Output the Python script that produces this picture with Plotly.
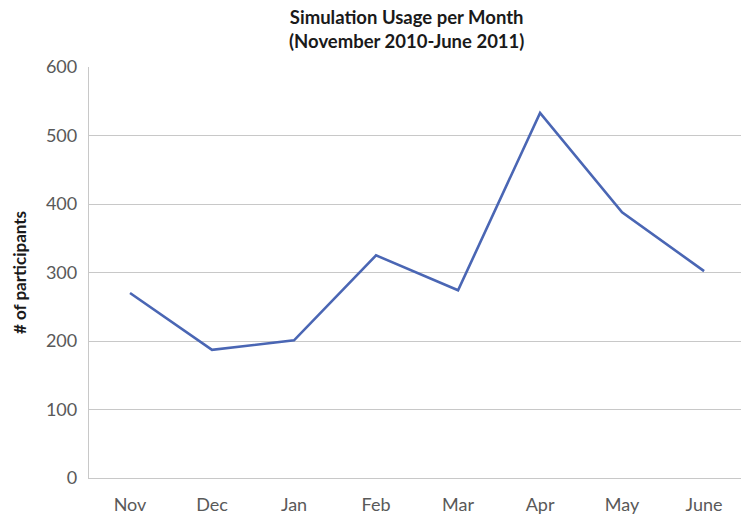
import plotly.graph_objects as go

months = ["Nov", "Dec", "Jan", "Feb", "Mar", "Apr", "May", "June"]
participants = [270, 187, 201, 325, 274, 533, 388, 302]
y_ticks = [0, 100, 200, 300, 400, 500, 600]

fig = go.Figure()
fig.add_trace(go.Scatter(
    x=list(range(len(months))), y=participants, mode="lines",
    line=dict(color="#4A66B4", width=2.6), hoverinfo="skip"))

fig.update_layout(
    width=741, height=514,
    margin=dict(l=89, r=0, t=67, b=36),
    paper_bgcolor="white", plot_bgcolor="white",
    showlegend=False,
    font=dict(family="Lato, 'Open Sans', sans-serif", color="#595959"),
    annotations=[dict(
        text="<b>Simulation Usage per Month<br>(November 2010-June 2011)</b>",
        x=(406 - 89) / 652, xref="paper", xanchor="center",
        y=(478 - 4) / 411, yref="paper", yanchor="top",
        showarrow=False, align="center",
        font=dict(size=18.5, color="#1a1a1a"),
    )],
)
fig.update_xaxes(
    range=[-0.5, 7.45], tickmode="array", tickvals=list(range(len(months))),
    ticktext=months, showgrid=False, zeroline=False,
    showline=True, linecolor="#c8c8c8", linewidth=1.3,
    tickfont=dict(size=18, color="#595959"), ticks="", ticklabelstandoff=10,
)
fig.update_yaxes(
    range=[0, 600], tickmode="array", tickvals=y_ticks,
    showgrid=True, gridcolor="#c8c8c8", gridwidth=1.3, zeroline=False,
    showline=True, linecolor="#c8c8c8", linewidth=1.3,
    tickfont=dict(size=18, color="#595959"), ticks="", ticklabelstandoff=7,
    title=dict(text="<b># of participants</b>", font=dict(size=17, color="#1a1a1a"), standoff=14),
)
fig.write_html("out.html")
